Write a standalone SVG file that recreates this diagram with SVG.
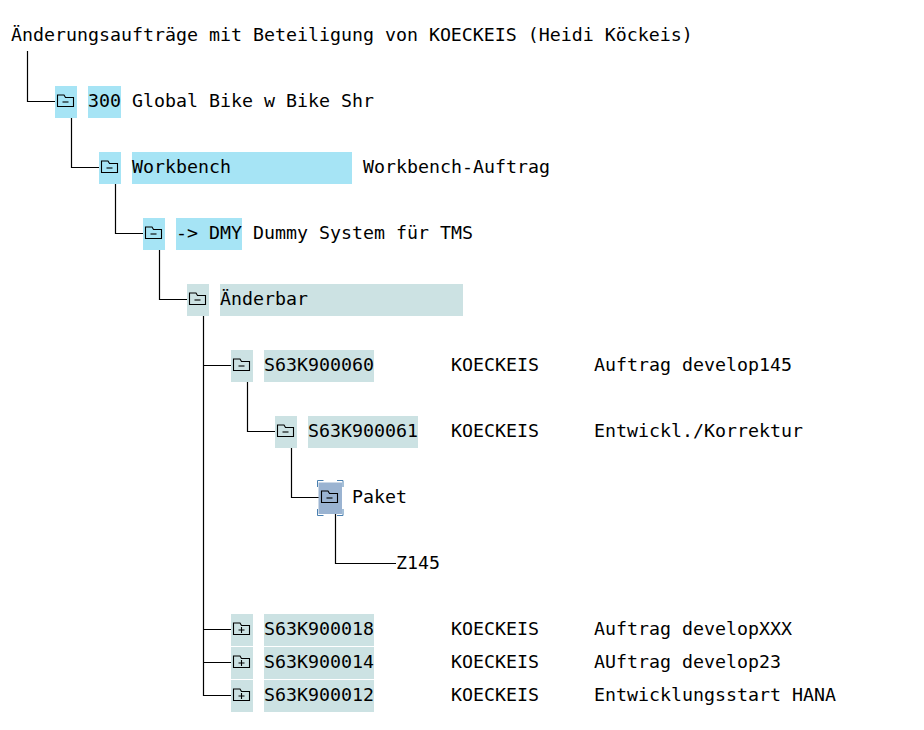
<svg xmlns="http://www.w3.org/2000/svg" width="924" height="730" viewBox="0 0 924 730">
<style>
text{font-family:"DejaVu Sans Mono","Liberation Mono",monospace;font-size:18.27px;fill:#000;dominant-baseline:alphabetic}
.b{fill:#a6e4f5}.g{fill:#cce2e3}.s{fill:#9ab3d1}
.c{fill:none;stroke:#000;stroke-width:1.2}
.f{fill:none;stroke:#000;stroke-width:1.1}
.h{fill:none;stroke:#4a80b0;stroke-width:1}
</style>
<defs>
<g id="open"><path class="f" d="M-8 -5.5V-6H-1.5L0 -3.5H8V5.5H-8Z"/><path class="f" d="M-3 1H3"/></g>
<g id="closed"><path class="f" d="M-8 -5.5V-6H-1.5L0 -3.5H8V5.5H-8Z"/><path class="f" d="M-3 1H3M0 -2V4"/></g>
</defs>
<rect width="924" height="730" fill="#fff"/>
<g id="connectors">
<path class="c" d="M27.5 51V101.5H55"/>
<path class="c" d="M71.5 117V167.5H99"/>
<path class="c" d="M115.5 183V233.5H143"/>
<path class="c" d="M159.5 249V299.5H187"/>
<path class="c" d="M203.5 315V695.5H231M203.5 365.5H231M203.5 629.5H231M203.5 662.5H231"/>
<path class="c" d="M247.5 381V431.5H275"/>
<path class="c" d="M291.5 447V497.5H319"/>
<path class="c" d="M335.5 513V563.5H396"/>
</g>
<g id="title"><text x="11" y="41">Änderungsaufträge mit Beteiligung von KOECKEIS (Heidi Köckeis)</text></g>
<g id="n300"><rect class="b" x="55" y="86" width="22" height="32"/><use href="#open" x="65.5" y="101"/><rect class="b" x="88" y="86" width="33" height="32"/><text x="88" y="107">300</text><text x="132" y="107">Global Bike w Bike Shr</text></g>
<g id="nWorkbench"><rect class="b" x="99" y="152" width="22" height="32"/><use href="#open" x="109.5" y="167"/><rect class="b" x="132" y="152" width="220" height="32"/><text x="132" y="173">Workbench</text><text x="363" y="173">Workbench-Auftrag</text></g>
<g id="nDMY"><rect class="b" x="143" y="218" width="22" height="32"/><use href="#open" x="153.5" y="233"/><rect class="b" x="176" y="218" width="66" height="32"/><text x="176" y="239">-&gt; DMY</text><text x="253" y="239">Dummy System für TMS</text></g>
<g id="nAenderbar"><rect class="g" x="187" y="284" width="22" height="32"/><use href="#open" x="197.5" y="299"/><rect class="g" x="220" y="284" width="243" height="32"/><text x="220" y="305">Änderbar</text></g>
<g id="n060"><rect class="g" x="231" y="350" width="22" height="32"/><use href="#open" x="241.5" y="365"/><rect class="g" x="264" y="350" width="110" height="32"/><text x="264" y="371">S63K900060</text><text x="451" y="371">KOECKEIS</text><text x="594" y="371">Auftrag develop145</text></g>
<g id="n061"><rect class="g" x="275" y="416" width="22" height="32"/><use href="#open" x="285.5" y="431"/><rect class="g" x="308" y="416" width="110" height="32"/><text x="308" y="437">S63K900061</text><text x="451" y="437">KOECKEIS</text><text x="594" y="437">Entwickl./Korrektur</text></g>
<g id="nPaket"><rect class="s" x="318.5" y="482.5" width="23.5" height="31.5"/><path class="h" d="M317.5 487V480.5H323.5M337 480.5H343V487M317.5 509V515.5H323.5M337 515.5H343V509"/><use href="#open" x="329.5" y="497"/><text x="352" y="503">Paket</text></g>
<g id="nZ145"><text x="396" y="569">Z145</text></g>
<g id="n018"><rect class="g" x="231" y="614" width="22" height="32"/><use href="#closed" x="241.5" y="629"/><rect class="g" x="264" y="614" width="110" height="32"/><text x="264" y="635">S63K900018</text><text x="451" y="635">KOECKEIS</text><text x="594" y="635">Auftrag developXXX</text></g>
<g id="n014"><rect class="g" x="231" y="647" width="22" height="32"/><use href="#closed" x="241.5" y="662"/><rect class="g" x="264" y="647" width="110" height="32"/><text x="264" y="668">S63K900014</text><text x="451" y="668">KOECKEIS</text><text x="594" y="668">AUftrag develop23</text></g>
<g id="n012"><rect class="g" x="231" y="680" width="22" height="32"/><use href="#closed" x="241.5" y="695"/><rect class="g" x="264" y="680" width="110" height="32"/><text x="264" y="701">S63K900012</text><text x="451" y="701">KOECKEIS</text><text x="594" y="701">Entwicklungsstart HANA</text></g>
</svg>
